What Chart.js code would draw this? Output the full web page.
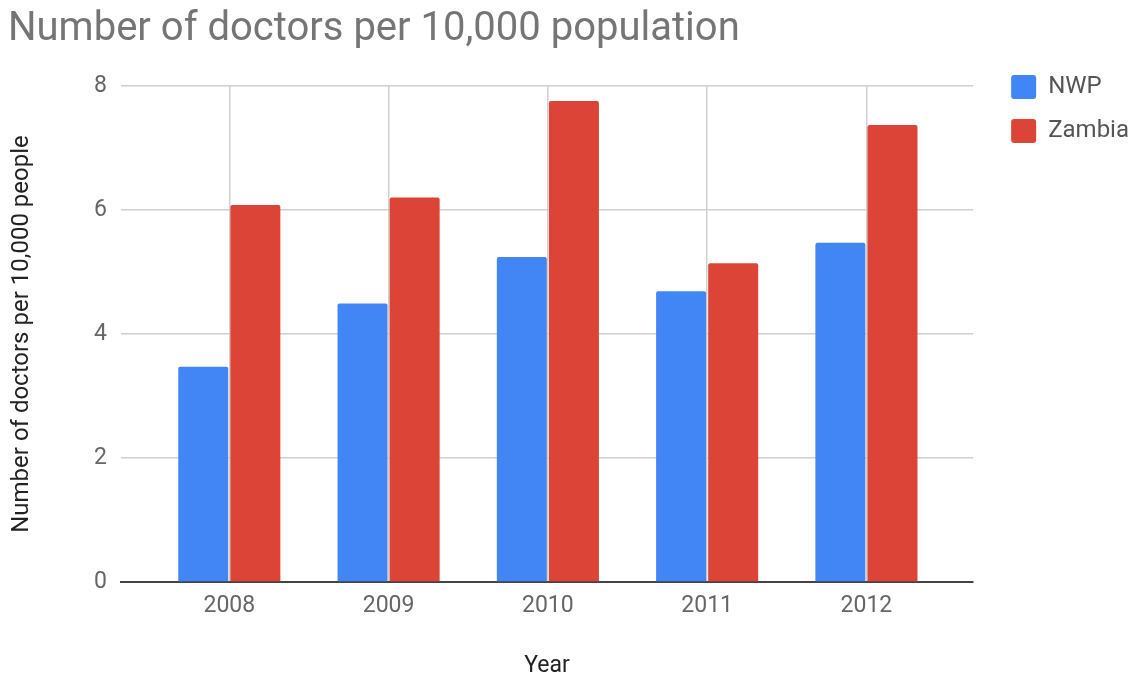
<!DOCTYPE html>
<html lang="en">
<head>
  <meta charset="UTF-8" />
  <title>Number of doctors per 10,000 population</title>
  <script src="https://cdn.jsdelivr.net/npm/chart.js"></script>
  <style>
    html, body { margin: 0; padding: 0; background: #fff; }
    #wrap { width: 1139px; height: 681px; }
  </style>
</head>
<body>
  <div id="wrap"><canvas id="docChart" width="1139" height="681"></canvas></div>

  <script>
    const years = [2008, 2009, 2010, 2011, 2012];
    const nwp = [3.47, 4.49, 5.24, 4.69, 5.47];
    const zambia = [6.08, 6.20, 7.76, 5.14, 7.37];
    const yTicks = [0, 2, 4, 6, 8];

    const FONT = 'Roboto, "Noto Sans", sans-serif';

    // pairs for the linear x axis so the year groups keep an outer margin
    const toPoints = vals => years.map((yr, i) => ({ x: yr, y: vals[i] }));

    new Chart(document.getElementById('docChart'), {
      type: 'bar',
      data: {
        datasets: [
          { label: 'NWP', data: toPoints(nwp), backgroundColor: '#4285f4' },
          { label: 'Zambia', data: toPoints(zambia), backgroundColor: '#db4437' }
        ]
      },
      options: {
        responsive: false,
        animation: false,
        layout: { padding: { left: 8, right: 0, top: 3, bottom: 0 } },
        datasets: {
          bar: {
            categoryPercentage: 0.654,
            barPercentage: 0.96,
            borderRadius: { topLeft: 2, topRight: 2 },
            borderSkipped: 'bottom'
          }
        },
        plugins: {
          title: {
            display: true,
            text: 'Number of doctors per 10,000 population',
            align: 'start',
            color: '#757575',
            font: { family: FONT, size: 40, weight: 'normal' },
            padding: { top: 3, bottom: 1 }
          },
          legend: {
            position: 'right',
            align: 'start',
            // empty title only pushes the entries down to the top gridline
            title: { display: true, text: '', font: { size: 12, lineHeight: 1 }, padding: { top: 40, bottom: 0 } },
            labels: {
              boxWidth: 25,
              boxHeight: 24,
              padding: 20,
              useBorderRadius: true,
              borderRadius: 3,
              color: '#555',
              font: { family: FONT, size: 24 }
            }
          },
          tooltip: { enabled: false }
        },
        scales: {
          x: {
            type: 'linear',
            offset: false,
            min: years[0] - 0.68,
            max: years[years.length - 1] + 0.67,
            afterBuildTicks: s => { s.ticks = years.map(v => ({ value: v })); },
            afterFit: s => { s.height = 99; },
            grid: { offset: false, color: '#d0d0d0', lineWidth: 1.5, drawTicks: false },
            border: { display: true, color: '#444', width: 2 },
            ticks: {
              padding: 10,
              color: '#666',
              font: { family: FONT, size: 23 },
              callback: v => String(v)
            },
            title: {
              display: true,
              text: 'Year',
              color: '#222',
              font: { family: FONT, size: 23 },
              padding: { top: 0, bottom: 1 }
            }
          },
          // spacer above the plot
          xTop: {
            type: 'linear',
            position: 'top',
            grid: { display: false },
            border: { display: false },
            ticks: { display: false },
            afterFit: s => { s.height = 31; }
          },
          y: {
            min: 0,
            max: 8,
            afterBuildTicks: s => { s.ticks = yTicks.map(v => ({ value: v })); },
            afterFit: s => { s.width = 113; },
            grid: { color: '#d0d0d0', lineWidth: 1.5, drawTicks: false },
            border: { display: false },
            ticks: {
              padding: 14,
              color: '#666',
              font: { family: FONT, size: 23 }
            },
            title: {
              display: true,
              text: 'Number of doctors per 10,000 people',
              color: '#222',
              font: { family: FONT, size: 24 },
              padding: { top: 0, bottom: 0 }
            }
          },
          // spacer between the plot and the legend
          yGap: {
            type: 'linear',
            position: 'right',
            grid: { display: false },
            border: { display: false },
            ticks: { display: false },
            afterFit: s => { s.width = 18; }
          }
        }
      }
    });
  </script>
</body>
</html>
